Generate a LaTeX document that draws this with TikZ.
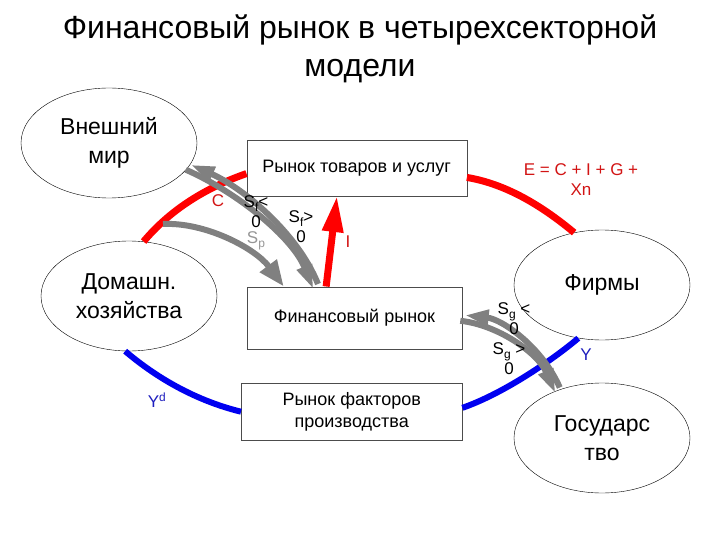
\documentclass[tikz,border=0pt]{standalone}
\usepackage{fontspec}
\setmainfont{Liberation Sans}
\usetikzlibrary{shapes.geometric,arrows.meta,calc}

\definecolor{flowred}{RGB}{255,0,0}
\definecolor{labelred}{RGB}{210,20,20}
\definecolor{flowblue}{RGB}{0,0,240}
\definecolor{labelblue}{RGB}{30,30,190}
\definecolor{flowgray}{RGB}{128,128,128}
\definecolor{labelgray}{RGB}{150,150,150}

\newcommand{\lowsub}[1]{\raisebox{-4pt}{\fontsize{12}{12}\selectfont #1}}

\begin{document}
\begin{tikzpicture}[x=1pt,y=1pt,yscale=-1,
	sector/.style={draw,ellipse,fill=white,minimum width=176pt,minimum height=110pt,inner sep=0pt,align=center,font=\fontsize{23}{29}\selectfont},
	market/.style={draw=black!70,rectangle,fill=white,inner sep=0pt,align=center,font=\fontsize{18}{22}\selectfont},
	redflow/.style={flowred,line width=7pt},
	blueflow/.style={flowblue,line width=6pt},
	grayflow/.style={flowgray,line width=6pt},
	bighead/.style={-{Triangle[length=26pt,width=20pt]}},
	slimhead/.style={-{Triangle[length=24pt,width=15pt]}},
	flowlabel/.style={inner sep=0pt,align=center,font=\fontsize{17}{20}\selectfont}]
	\useasboundingbox (0,0) rectangle (720,540);
	\node[font=\fontsize{32}{38}\selectfont,align=center] (title) at (360,49) {Финансовый рынок в четырехсекторной\\модели};
	% sectors
	\node[sector] (ext) at (109,143) {Внешний\\мир};
	\node[sector] (hh) at (129,296) {Домашн.\\хозяйства};
	\node[sector] (firms) at (602,285) {Фирмы};
	\node[sector] (gov) at (602,438) {Государс\\тво};
	% markets
	\node[market,minimum width=220pt,minimum height=56pt] (goods) at (356.7,167.8) {Рынок товаров и услуг};
	\node[market,minimum width=215.6pt,minimum height=62.6pt] (fin) at (354.5,318) {Финансовый рынок};
	\node[market,minimum width=221pt,minimum height=56.7pt] (fac) at (351.7,411.7) {Рынок факторов\\производства};
	% expenditure flows
	\draw[redflow] (hh.75) .. controls (170,210) and (205,188) .. (goods.183);
	\draw[redflow] (goods.-5) .. controls (500,183) and (535,200) .. (firms.118);
	\draw[redflow,-{Triangle[length=36pt,width=20pt]}] (fin.132) -- (goods.235);
	% income flows
	\draw[blueflow] (hh.-94) .. controls (145,368) and (185,398) .. (fac.west);
	\draw[blueflow] (firms.246) .. controls (555,358) and (505,393) .. (fac.2);
	% savings flows
	\coordinate (spfrom) at (163,224);
	\draw[grayflow,bighead] (spfrom) .. controls (205,222) and (255,248) .. (fin.156);
	\draw[grayflow,slimhead] ($(fin.141)+(2.4,-2.5)$) .. controls (297.4,232.5) and (242.4,187.5) .. ($(ext.-17)+(2.4,-2.5)$);
	\draw[grayflow,slimhead] ($(ext.-17)+(-2.4,2.5)$) .. controls (237.6,192.5) and (292.6,237.5) .. ($(fin.141)+(-2.4,2.5)$);
	\draw[grayflow,slimhead] ($(gov.133)+(2.2,-2.8)$) .. controls (542.2,347.2) and (502.2,319.2) .. ($(fin.east)+(2.2,-2.8)$);
	\draw[grayflow,slimhead] ($(fin.east)+(-2.2,2.8)$) .. controls (497.8,324.8) and (537.8,352.8) .. ($(gov.133)+(-2.2,2.8)$);
	% labels
	\node[flowlabel,labelred] (lc) at (218,201) {C};
	\node[flowlabel,labelred] (li) at (348,242) {I};
	\node[flowlabel,labelred] (le) at (581,180) {E = C + I + G +\\Xn};
	\node[flowlabel,labelblue] (ly) at (586,355) {Y};
	\node[flowlabel,labelblue] (lyd) at (157,400) {Y\textsuperscript{d}};
	\node[flowlabel,labelgray] (lsp) at (256,241) {S\lowsub{p}};
	\node[flowlabel] (lsfneg) at (256,212) {S\lowsub{f}<\\0};
	\node[flowlabel] (lsfpos) at (301,227) {S\lowsub{f}>\\0};
	\node[flowlabel] (lsgneg) at (514,319) {S\lowsub{g} <\\0};
	\node[flowlabel] (lsgpos) at (509,359) {S\lowsub{g} >\\0};
\end{tikzpicture}
\end{document}
